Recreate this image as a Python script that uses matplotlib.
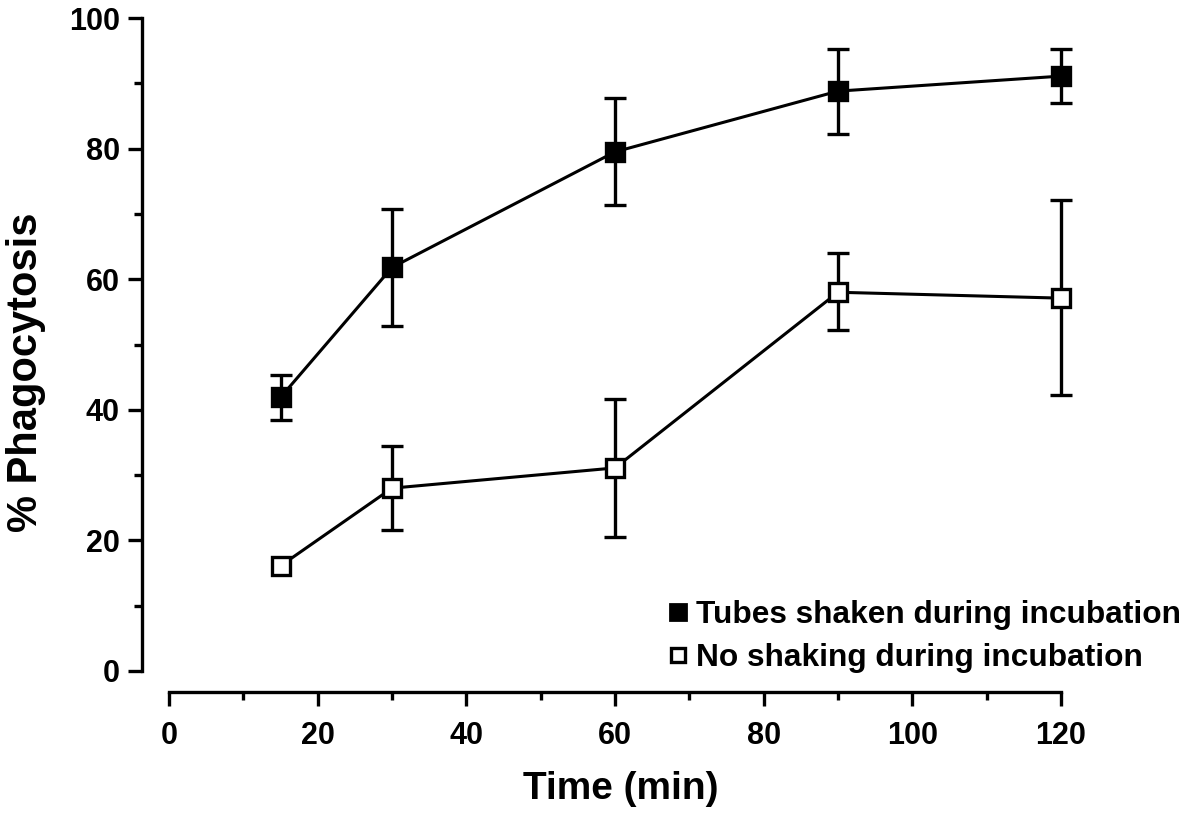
"""Phagocytosis time course, shaken vs. not shaken."""

import matplotlib

matplotlib.use("Agg")
import matplotlib.pyplot as plt
from matplotlib.lines import Line2D
from matplotlib.ticker import MultipleLocator

plt.rcParams["font.family"] = ["Liberation Sans", "DejaVu Sans"]
plt.rcParams["font.weight"] = "bold"

time_min = [15, 30, 60, 90, 120]

shaken = [41.9, 61.8, 79.5, 88.8, 91.1]
shaken_lo = [38.4, 52.8, 71.4, 82.3, 87.0]
shaken_hi = [45.3, 70.8, 87.8, 95.3, 95.3]

still = [16.1, 28.0, 31.1, 58.0, 57.1]
still_lo = [16.1, 21.6, 20.5, 52.2, 42.3]
still_hi = [16.1, 34.5, 41.7, 64.0, 72.1]

labels = ["Tubes shaken during incubation", "No shaking during incubation"]


def draw_series(ax, vals, lo, hi, face):
    # error bars only where there is a spread to show
    keep = [i for i in range(len(vals)) if hi[i] > lo[i]]
    xs = [time_min[i] for i in keep]
    ys = [vals[i] for i in keep]
    yerr = [[vals[i] - lo[i] for i in keep], [hi[i] - vals[i] for i in keep]]
    ax.errorbar(xs, ys, yerr=yerr, fmt="none", ecolor="k", elinewidth=2.4,
                capsize=8, capthick=2.4, zorder=2, clip_on=False)
    ax.plot(time_min, vals, "s-", color="k", lw=2.2, ms=13.5, mew=2.4,
            mfc=face, mec="k", zorder=3, clip_on=False)


fig = plt.figure(figsize=(11.89, 8.24), dpi=100)
ax = fig.add_axes([169 / 1189, 1 - 671 / 824, (1061 - 169) / 1189, (671 - 18) / 824])

draw_series(ax, shaken, shaken_lo, shaken_hi, "k")
draw_series(ax, still, still_lo, still_hi, "white")

ax.set_xlim(0, 120)
ax.set_ylim(0, 100)
ax.xaxis.set_major_locator(MultipleLocator(20))
ax.xaxis.set_minor_locator(MultipleLocator(10))
ax.yaxis.set_major_locator(MultipleLocator(20))
ax.yaxis.set_minor_locator(MultipleLocator(10))

for side in ("top", "right"):
    ax.spines[side].set_visible(False)
ax.spines["left"].set_position(("outward", 19.5))
ax.spines["bottom"].set_position(("outward", 15))
for side in ("left", "bottom"):
    ax.spines[side].set_linewidth(2.4)

ax.tick_params(which="major", length=10, width=2.4, labelsize=22, pad=6)
ax.tick_params(which="minor", length=6, width=2.4)
ax.tick_params(axis="x", which="major", pad=11)

ax.set_xlabel("Time (min)", fontsize=28, fontweight="bold")
ax.xaxis.set_label_coords(0.507, -0.153)
ax.set_ylabel("% Phagocytosis", fontsize=30, fontweight="bold")
ax.yaxis.set_label_coords(-0.138, 0.458)

handles = [
    Line2D([], [], ls="none", marker="s", ms=11, mfc="k", mec="k", mew=2),
    Line2D([], [], ls="none", marker="s", ms=9.5, mfc="white", mec="k", mew=2.4),
]
fig.legend(handles, labels, loc="upper left", bbox_to_anchor=(668 / 1189, 1 - 600 / 824),
           frameon=False, handlelength=0.6, handletextpad=0.3,
           labelspacing=0.42, borderpad=0, borderaxespad=0,
           prop={"weight": "bold", "size": 22.8})

fig.savefig("out.png", dpi=100)
